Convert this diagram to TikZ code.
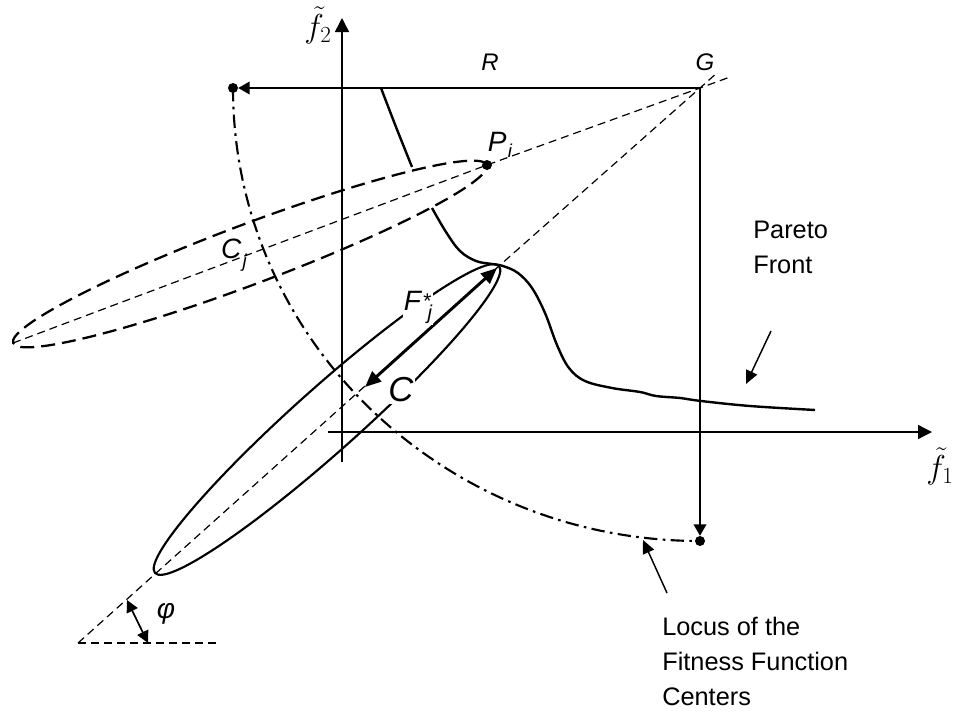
\documentclass[tikz,border=0pt]{standalone}
\usepackage{fontspec}
\setmainfont{Liberation Sans}
\usepackage{amsmath}
\usetikzlibrary{arrows.meta}
\begin{document}
\begin{tikzpicture}[x=0.75pt,y=-0.75pt,
  axis/.style={line width=1.1pt,-{Triangle[length=10.5pt,width=10.5pt]}},
  guide/.style={line width=0.9pt,dash pattern=on 6pt off 3.75pt},
  cjell/.style={line width=1.7pt,dash pattern=on 10.5pt off 5.25pt},
  locus/.style={line width=1.6pt,dash pattern=on 10pt off 4pt on 2pt off 4pt},
  pareto/.style={line width=1.8pt},
  dotnode/.style={circle,fill=black,inner sep=0pt,minimum size=7.5pt},
  ptr/.style={line width=1.1pt,-{Triangle[length=10pt,width=9pt]}},
  sharp/.style={line width=1.1pt,-{Triangle[length=8.5pt,width=9.5pt]}},
  ilbl/.style={font=\fontsize{21}{25}\selectfont\itshape,inner sep=1pt},
  txt/.style={anchor=north west,align=left,inner sep=0pt,font=\fontsize{19}{26.25}\selectfont}
]
\useasboundingbox (0,0) rectangle (958,714);
% key points
\coordinate (G) at (700,88);
\node[dotnode] (Pi) at (487,165) {};
\node[dotnode] (dL) at (233,88) {};
\node[dotnode] (dB) at (700,541) {};
\coordinate (cjL) at (13,343);
\coordinate (cjC) at (250,254);
\coordinate (fC) at (327,419.5);
\coordinate (Ftip) at (499,266);
\coordinate (phiO) at (78,643);
\coordinate (phiE) at (220,643);
\coordinate (ext1) at (730,77);
\coordinate (ext2) at (718,72);
% axes
\coordinate (f2a) at (342,462);
\coordinate (f2b) at (342,18);
\coordinate (f1a) at (328,432);
\coordinate (f1b) at (932,432);
\draw[axis] (f2a) -- (f2b);
\draw[axis] (f1a) -- (f1b);
% guides
\draw[guide] (cjL) -- (Pi.center) -- (G) -- (ext1);
\draw[guide] (phiO) -- (Ftip) -- (G) -- (ext2);
\draw[guide] (phiO) -- (phiE);
% R and G arrows
\draw[sharp] (G) -- (dL);
\draw[sharp] (G) -- (dB);
% locus
\draw[locus] (dL.center) arc[start angle=180,end angle=270,x radius=350.25pt,y radius=339.75pt];
% ellipses
\draw[cjell,rotate around={20.6:(cjC)}] (cjC) ellipse[x radius=189.75pt,y radius=22.5pt];
\draw[line width=1.6pt,rotate around={41.75:(fC)}] (fC) ellipse[x radius=172.9pt,y radius=24pt];
% pareto front
\draw[pareto] plot[smooth,tension=0.5] coordinates {(381,88) (396,127) (412,167)};
\draw[pareto] plot[smooth,tension=0.6] coordinates {(432,208) (446,232) (460,251) (476,261) (492,264) (503,266) (518,273) (532,288) (545,313) (557,345) (569,368) (585,381) (612,388) (640,392) (656,396) (680,398) (701,401) (750,406) (815,410)};
% F* arrow
\coordinate (fa) at (497,268);
\coordinate (fb) at (365,387);
\draw[line width=2.2pt,{Triangle[length=12pt,width=10pt]}-{Triangle[length=12pt,width=10pt]}] (fa) -- (fb);
% phi arrow
\coordinate (pa) at (127,600);
\coordinate (pb) at (148,643);
\draw[line width=1.3pt,{Triangle[length=9pt,width=9pt]}-{Triangle[length=9pt,width=9pt]}] (pa) -- (pb);
% pointer arrows
\coordinate (pt1) at (771,331);
\coordinate (pt2) at (746,384);
\draw[ptr] (pt1) -- (pt2);
\coordinate (lc1) at (667,593);
\coordinate (lc2) at (643,540);
\draw[ptr] (lc1) -- (lc2);
% labels
\node[font=\fontsize{25}{28}\selectfont,inner sep=0pt] (f2l) at (318,25) {$\tilde{f}_2$};
\node[font=\fontsize{25}{28}\selectfont,inner sep=0pt] (f1l) at (940,466) {$\tilde{f}_1$};
\node[font=\fontsize{18}{22}\selectfont\itshape] (Rl) at (490,62) {R};
\node[font=\fontsize{18}{22}\selectfont\itshape] (Gl) at (705,62) {G};
\node[ilbl] (Pil) at (500,145) {P\kern1pt\raisebox{-0.2em}{\fontsize{14}{14}\selectfont i}};
\node[ilbl] (Cjl) at (234,255) {C\kern1pt\raisebox{-0.3em}{\fontsize{14}{14}\selectfont j}};
\node[ilbl,fill=white] (Fl) at (418,307) {F\kern1pt\rlap{\raisebox{0.05em}{\fontsize{16}{16}\selectfont *}}\kern4pt\raisebox{-0.32em}{\fontsize{15}{15}\selectfont j}};
\node[fill=white,inner sep=1pt,font=\fontsize{26}{30}\selectfont\itshape] (Cl) at (401,390) {C};
\node[ilbl] (phl) at (166,614) {φ};
\node[txt] (pfl) at (753,221) {Pareto\\Front};
\node[txt] (lcl) at (662,617) {Locus of the\\Fitness Function\\Centers};
\end{tikzpicture}
\end{document}
